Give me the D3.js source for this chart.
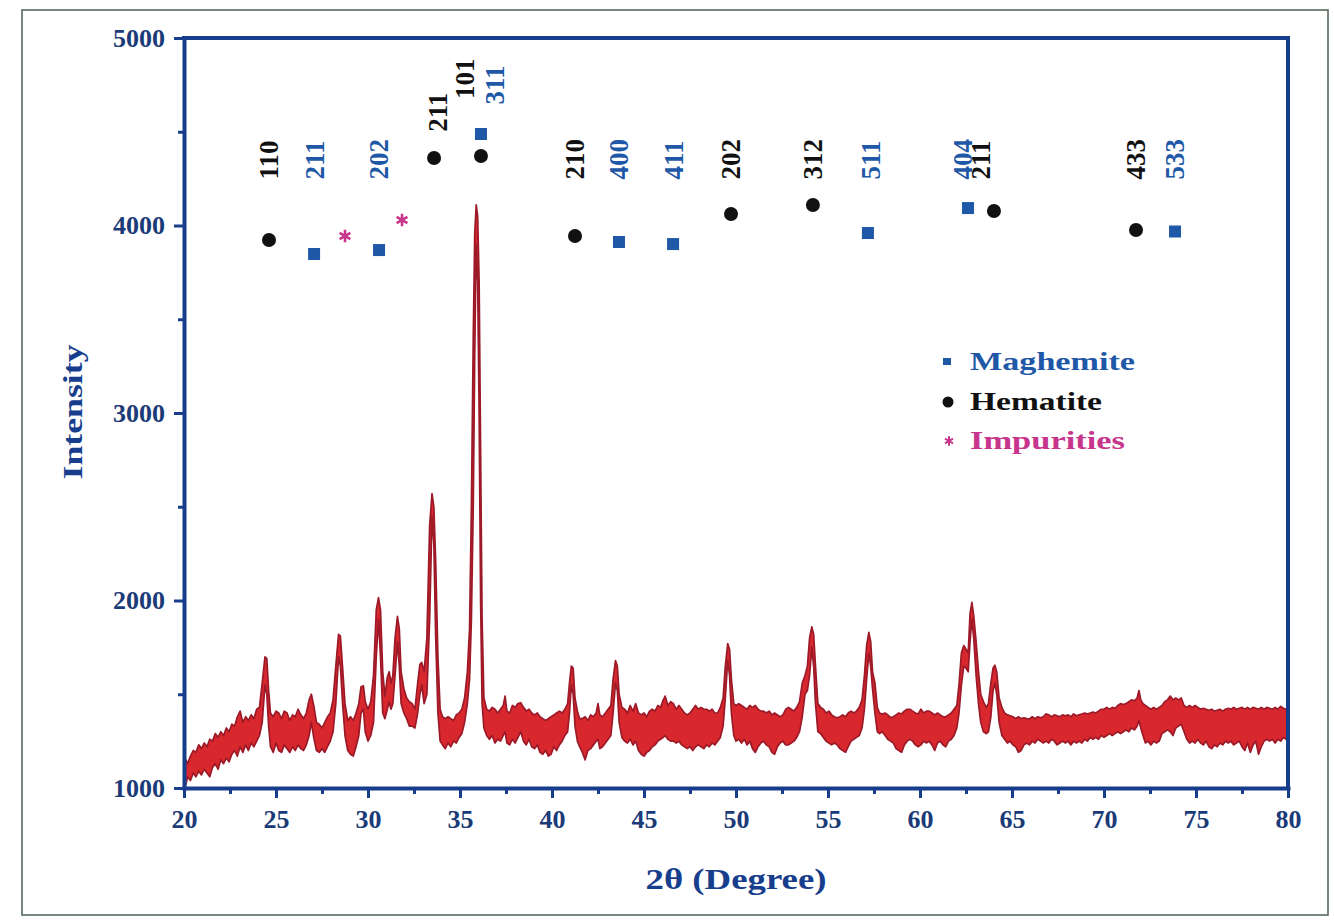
<!DOCTYPE html>
<html>
<head>
<meta charset="utf-8">
<script src="https://cdn.jsdelivr.net/npm/d3@7"></script>
<style>
  html, body { margin: 0; padding: 0; background: #ffffff; }
  svg { display: block; }
  text { font-family: "Liberation Serif", "Times New Roman", serif; font-weight: bold; }
</style>
</head>
<body>
<svg id="chart" width="1334" height="922"></svg>
<script>
// XRD scan, each row: [2θ (deg), lower edge, upper edge] of the noisy trace (counts)
const scan20to30 = [
  [20.0,1000,1100],[20.1,1020,1150],[20.2,1060,1130],[20.35,1040,1170],[20.5,1080,1200],
  [20.65,1060,1190],[20.8,1090,1230],[20.95,1070,1210],[21.1,1100,1240],[21.25,1080,1220],
  [21.4,1060,1260],[21.55,1110,1250],[21.7,1130,1290],[21.85,1100,1270],[22.0,1150,1300],
  [22.15,1130,1280],[22.3,1160,1320],[22.45,1140,1300],[22.6,1180,1340],[22.75,1200,1330],
  [22.9,1170,1380],[23.05,1220,1410],[23.2,1190,1350],[23.35,1230,1380],[23.5,1200,1360],
  [23.65,1240,1390],[23.8,1220,1370],[23.95,1250,1420],[24.1,1280,1430],[24.25,1350,1560],
  [24.4,1550,1700],[24.5,1500,1690],[24.6,1330,1520],[24.7,1220,1400],[24.85,1190,1380],
  [25.0,1240,1410],[25.15,1200,1400],[25.3,1190,1370],[25.45,1230,1410],[25.6,1210,1400],
  [25.75,1190,1360],[25.9,1220,1390],[26.05,1200,1380],[26.2,1230,1420],[26.35,1210,1390],
  [26.5,1200,1370],[26.65,1230,1400],[26.8,1280,1470],[26.92,1350,1500],[27.05,1270,1440],
  [27.2,1200,1350],[27.35,1190,1340],[27.5,1210,1320],[27.65,1190,1350],[27.8,1220,1380],
  [27.95,1250,1400],[28.1,1300,1470],[28.25,1450,1650],[28.4,1700,1820],[28.5,1650,1810],
  [28.62,1450,1640],[28.75,1280,1450],[28.9,1200,1360],[29.05,1180,1380],[29.2,1170,1360],
  [29.35,1220,1400],[29.5,1280,1450],[29.62,1400,1540],[29.75,1420,1545],[29.85,1300,1460]
];
const scan30to40 = [
  [30.0,1250,1420],[30.15,1280,1460],[30.3,1350,1600],[30.45,1700,1950],[30.57,1900,2015],
  [30.68,1700,1950],[30.8,1400,1620],[30.92,1370,1490],[31.05,1420,1590],[31.15,1460,1620],
  [31.25,1420,1560],[31.35,1450,1600],[31.47,1600,1800],[31.6,1780,1915],[31.7,1650,1850],
  [31.8,1450,1620],[31.95,1400,1530],[32.1,1370,1480],[32.25,1330,1460],[32.4,1330,1450],
  [32.55,1320,1420],[32.7,1400,1560],[32.82,1500,1660],[32.92,1550,1670],[33.05,1450,1620],
  [33.2,1500,1800],[33.35,1900,2400],[33.48,2450,2570],[33.58,2300,2500],[33.68,1800,2200],
  [33.8,1400,1700],[33.92,1250,1420],[34.05,1230,1380],[34.2,1210,1370],[34.35,1240,1380],
  [34.5,1220,1370],[34.65,1250,1360],[34.8,1240,1390],[34.95,1270,1400],[35.1,1290,1420],
  [35.25,1350,1480],[35.4,1450,1620],[35.52,1580,1850],[35.62,1900,2500],[35.72,2500,3400],
  [35.8,3300,3950],[35.88,3900,4110],[35.96,3700,4050],[36.04,3000,3700],[36.12,2000,2800],
  [36.2,1450,1900],[36.3,1320,1480],[36.45,1280,1420],[36.6,1260,1410],[36.75,1280,1430],
  [36.9,1240,1420],[37.05,1260,1400],[37.2,1250,1420],[37.35,1280,1440],[37.45,1300,1490],
  [37.55,1240,1410],[37.7,1230,1400],[37.85,1260,1440],[38.0,1240,1430],[38.15,1270,1450],
  [38.3,1300,1455],[38.45,1250,1430],[38.6,1230,1410],[38.75,1260,1420],[38.9,1220,1400],
  [39.05,1210,1390],[39.2,1230,1400],[39.35,1190,1380],[39.5,1180,1370],[39.65,1200,1360],
  [39.8,1170,1370],[39.95,1180,1380]
];
const scan40to50 = [
  [40.1,1220,1390],[40.25,1200,1400],[40.4,1230,1410],[40.55,1250,1400],[40.7,1280,1420],
  [40.85,1300,1450],[40.95,1400,1560],[41.05,1550,1650],[41.15,1500,1640],[41.25,1330,1480],
  [41.38,1250,1410],[41.5,1220,1370],[41.65,1190,1370],[41.8,1150,1380],[41.95,1200,1360],
  [42.1,1210,1390],[42.25,1230,1380],[42.4,1250,1400],[42.5,1260,1450],[42.6,1210,1390],
  [42.75,1220,1380],[42.9,1240,1400],[43.05,1260,1420],[43.2,1280,1440],[43.32,1400,1580],
  [43.45,1560,1680],[43.55,1520,1650],[43.65,1350,1500],[43.8,1270,1430],[43.95,1250,1420],
  [44.1,1240,1400],[44.25,1260,1440],[44.4,1230,1410],[44.55,1250,1450],[44.7,1200,1400],
  [44.85,1180,1390],[45.0,1170,1400],[45.15,1190,1380],[45.3,1200,1410],[45.45,1220,1420],
  [45.6,1230,1410],[45.75,1250,1440],[45.9,1260,1430],[46.05,1270,1470],[46.15,1280,1490],
  [46.3,1260,1440],[46.45,1250,1460],[46.6,1250,1450],[46.75,1240,1420],[46.9,1250,1440],
  [47.05,1230,1420],[47.2,1220,1400],[47.35,1210,1390],[47.5,1220,1400],[47.65,1200,1420],
  [47.8,1220,1440],[47.95,1230,1420],[48.1,1220,1430],[48.25,1210,1420],[48.4,1230,1420],
  [48.55,1220,1410],[48.7,1240,1420],[48.85,1230,1400],[49.0,1250,1400],[49.15,1270,1430],
  [49.3,1330,1480],[49.42,1480,1650],[49.55,1680,1770],[49.65,1600,1740],[49.75,1400,1580],
  [49.88,1280,1450]
];
const scan50to60 = [
  [50.0,1250,1440],[50.15,1260,1450],[50.3,1240,1440],[50.45,1260,1430],[50.6,1230,1420],
  [50.75,1250,1440],[50.9,1210,1430],[51.05,1190,1440],[51.2,1220,1420],[51.35,1240,1410],
  [51.5,1250,1410],[51.65,1230,1400],[51.8,1220,1410],[51.95,1190,1390],[52.1,1180,1400],
  [52.25,1220,1390],[52.4,1240,1380],[52.55,1250,1390],[52.7,1230,1420],[52.85,1230,1430],
  [53.0,1240,1420],[53.15,1250,1410],[53.3,1270,1430],[53.45,1300,1460],[53.6,1380,1560],
  [53.75,1500,1600],[53.88,1520,1650],[54.0,1600,1800],[54.12,1750,1860],[54.22,1650,1820],
  [54.32,1450,1650],[54.45,1300,1450],[54.6,1290,1430],[54.75,1270,1420],[54.9,1250,1400],
  [55.05,1240,1410],[55.2,1230,1390],[55.35,1240,1380],[55.5,1230,1375],[55.65,1210,1380],
  [55.8,1200,1390],[55.95,1190,1380],[56.1,1220,1400],[56.25,1250,1410],[56.4,1260,1400],
  [56.55,1270,1410],[56.7,1280,1430],[56.85,1320,1470],[56.98,1420,1600],[57.1,1580,1760],
  [57.22,1720,1830],[57.32,1650,1780],[57.42,1530,1620],[57.55,1400,1560],[57.68,1300,1430],
  [57.8,1290,1400],[57.95,1300,1395],[58.1,1280,1400],[58.25,1260,1390],[58.4,1250,1375],
  [58.55,1240,1380],[58.7,1210,1390],[58.85,1200,1400],[59.0,1190,1395],[59.15,1230,1410],
  [59.3,1250,1420],[59.45,1260,1420],[59.6,1250,1410],[59.75,1230,1400],[59.9,1220,1395]
];
const scan60to70 = [
  [60.05,1230,1420],[60.2,1250,1400],[60.35,1240,1410],[60.5,1250,1410],[60.65,1230,1400],
  [60.8,1200,1390],[60.95,1240,1400],[61.1,1250,1390],[61.25,1230,1380],[61.4,1220,1380],
  [61.55,1250,1390],[61.7,1260,1400],[61.85,1280,1420],[62.0,1320,1440],[62.12,1400,1550],
  [62.25,1550,1720],[62.38,1650,1760],[62.5,1640,1740],[62.62,1620,1720],[62.72,1780,1930],
  [62.82,1900,1990],[62.92,1800,1920],[63.05,1600,1780],[63.18,1450,1620],[63.3,1350,1500],
  [63.45,1300,1460],[63.6,1290,1430],[63.72,1300,1450],[63.85,1380,1560],[63.97,1520,1640],
  [64.07,1560,1655],[64.17,1500,1620],[64.3,1350,1480],[64.45,1280,1430],[64.6,1260,1400],
  [64.75,1240,1390],[64.9,1250,1385],[65.05,1230,1380],[65.2,1220,1370],[65.35,1190,1380],
  [65.5,1200,1370],[65.65,1230,1375],[65.8,1240,1370],[65.95,1230,1368],[66.1,1250,1380],
  [66.25,1240,1370],[66.4,1260,1380],[66.55,1250,1375],[66.7,1240,1380],[66.85,1250,1395],
  [67.0,1240,1390],[67.15,1260,1380],[67.3,1250,1390],[67.45,1230,1385],[67.6,1240,1380],
  [67.75,1250,1390],[67.9,1240,1385],[68.05,1250,1390],[68.2,1230,1380],[68.35,1250,1395],
  [68.5,1240,1385],[68.65,1250,1390],[68.8,1240,1395],[68.95,1260,1400],[69.1,1250,1395],
  [69.25,1270,1400],[69.4,1260,1405],[69.55,1270,1400],[69.7,1260,1410],[69.85,1280,1420]
];
const scan70to80 = [
  [70.0,1270,1420],[70.15,1280,1430],[70.3,1290,1420],[70.45,1280,1430],[70.6,1290,1425],
  [70.75,1300,1440],[70.9,1290,1450],[71.05,1300,1445],[71.2,1310,1450],[71.35,1300,1460],
  [71.5,1320,1470],[71.65,1310,1465],[71.8,1330,1480],[71.9,1360,1520],[72.0,1320,1470],
  [72.12,1280,1450],[72.25,1240,1440],[72.4,1250,1430],[72.55,1230,1420],[72.7,1250,1430],
  [72.85,1240,1420],[73.0,1250,1430],[73.15,1290,1440],[73.3,1300,1460],[73.45,1310,1470],
  [73.6,1300,1490],[73.75,1280,1470],[73.9,1320,1480],[74.05,1330,1470],[74.2,1340,1480],
  [74.35,1300,1440],[74.5,1260,1430],[74.65,1240,1440],[74.8,1250,1430],[74.95,1240,1440],
  [75.1,1260,1430],[75.25,1240,1420],[75.4,1230,1425],[75.55,1250,1420],[75.7,1220,1415],
  [75.85,1210,1420],[76.0,1230,1410],[76.15,1220,1415],[76.3,1240,1420],[76.45,1230,1410],
  [76.6,1250,1420],[76.75,1240,1425],[76.9,1250,1420],[77.05,1230,1430],[77.2,1240,1420],
  [77.35,1250,1425],[77.5,1220,1430],[77.65,1200,1420],[77.8,1240,1430],[77.95,1190,1420],
  [78.1,1230,1430],[78.25,1250,1425],[78.4,1180,1420],[78.55,1220,1430],[78.7,1250,1420],
  [78.85,1260,1430],[79.0,1250,1425],[79.15,1260,1420],[79.3,1240,1430],[79.45,1260,1420],
  [79.6,1250,1435],[79.75,1270,1425],[79.9,1260,1420],[80.0,1280,1410]
];

// axis ticks
const xTicks = [20, 25, 30, 35, 40, 45, 50, 55, 60, 65, 70, 75, 80];
const xMinorTicks = [22.5, 27.5, 32.5, 37.5, 42.5, 47.5, 52.5, 57.5, 62.5, 67.5, 72.5, 77.5];
const yTicks = [1000, 2000, 3000, 4000, 5000];
const yMinorTicks = [1500, 2500, 3500, 4500];

// phase markers: reflection angle, marker level and (hkl)
const hematiteAngles = [24.62, 33.59, 36.14, 41.25, 49.73, 54.18, 64.02, 71.74];
const hematiteLevels = [3923, 4360, 4371, 3944, 4061, 4109, 4077, 3976];
const hematiteHkl = ["110", "211", "101", "210", "202", "312", "211", "433"];

const maghemiteAngles = [27.07, 30.6, 36.14, 43.64, 46.58, 57.17, 62.61, 73.86];
const maghemiteLevels = [3848, 3869, 4488, 3912, 3901, 3960, 4093, 3968];
const maghemiteHkl = ["211", "202", "311", "400", "411", "511", "404", "533"];

const impurityAngles = [28.75, 31.85];
const impurityLevels = [3944, 4029];

const legendNames = ["Maghemite", "Hematite", "Impurities"];

// ---------------------------------------------------------------
const plot = { left: 184, right: 1288, top: 38, bottom: 788 };
const navy = "#173e8c";
const tickText = "#1b3a78";
const redFill = "#d8282e";
const redEdge = "#9c1928";
const blue = "#1f58a6";
const black = "#111111";
const magenta = "#c8358c";

const svg = d3.select("#chart");

// page frame
svg.append("rect")
  .attr("x", 22).attr("y", 10).attr("width", 1306).attr("height", 905)
  .attr("fill", "#ffffff").attr("stroke", "#55695a").attr("stroke-width", 1.6);

const x = d3.scaleLinear().domain([20, 80]).range([plot.left, plot.right]);
const y = d3.scaleLinear().domain([1000, 5000]).range([plot.bottom, plot.top]);

// diffraction trace drawn as a band between its lower and upper noise edges
const scan = [].concat(scan20to30, scan30to40, scan40to50, scan50to60, scan60to70, scan70to80);
const band = d3.area().x(d => x(d[0])).y0(d => y(d[1])).y1(d => y(d[2]));
const upperEdge = d3.line().x(d => x(d[0])).y(d => y(d[2]));
const lowerEdge = d3.line().x(d => x(d[0])).y(d => y(d[1]));

const trace = svg.append("g");
trace.append("path").datum(scan).attr("d", band).attr("fill", redFill);
trace.append("path").datum(scan).attr("d", upperEdge)
  .attr("fill", "none").attr("stroke", redEdge).attr("stroke-width", 1.7).attr("stroke-linejoin", "round");
trace.append("path").datum(scan).attr("d", lowerEdge)
  .attr("fill", "none").attr("stroke", redEdge).attr("stroke-width", 1.7).attr("stroke-linejoin", "round");

// axes
function styleAxis(g, fontSize) {
  g.select(".domain").attr("stroke", navy).attr("stroke-width", 4).attr("stroke-linecap", "square");
  g.selectAll(".tick line").attr("stroke", navy).attr("stroke-width", 3);
  g.selectAll(".tick text")
    .attr("fill", tickText)
    .style("font-family", '"Liberation Serif", "Times New Roman", serif')
    .style("font-weight", "bold")
    .style("font-size", fontSize + "px");
}

const gxMinor = svg.append("g").attr("transform", `translate(0,${plot.bottom})`)
  .call(d3.axisBottom(x).tickValues(xMinorTicks).tickSize(6).tickFormat("").tickSizeOuter(0));
styleAxis(gxMinor, 26);
gxMinor.select(".domain").remove();

const gx = svg.append("g").attr("transform", `translate(0,${plot.bottom})`)
  .call(d3.axisBottom(x).tickValues(xTicks).tickSize(10).tickPadding(12).tickSizeOuter(0)
    .tickFormat(d3.format("d")));
styleAxis(gx, 26);

const gyMinor = svg.append("g").attr("transform", `translate(${plot.left},0)`)
  .call(d3.axisLeft(y).tickValues(yMinorTicks).tickSize(6).tickFormat("").tickSizeOuter(0));
styleAxis(gyMinor, 26);
gyMinor.select(".domain").remove();

const gy = svg.append("g").attr("transform", `translate(${plot.left},0)`)
  .call(d3.axisLeft(y).tickValues(yTicks).tickSize(10).tickPadding(9).tickSizeOuter(0)
    .tickFormat(d3.format("d")));
styleAxis(gy, 26);

// closing top and right frame lines
svg.append("path")
  .attr("d", `M${plot.left},${plot.top}H${plot.right}V${plot.bottom}`)
  .attr("fill", "none").attr("stroke", navy).attr("stroke-width", 4).attr("stroke-linecap", "square");

// axis titles
svg.append("text")
  .attr("transform", "translate(73,412) rotate(-90)")
  .attr("text-anchor", "middle").attr("dy", "0.35em")
  .attr("fill", navy).style("font-size", "27px")
  .attr("textLength", 135).attr("lengthAdjust", "spacingAndGlyphs")
  .text("Intensity");

svg.append("text")
  .attr("x", 736).attr("y", 889)
  .attr("text-anchor", "middle")
  .attr("fill", navy).style("font-size", "29px")
  .attr("textLength", 181).attr("lengthAdjust", "spacingAndGlyphs")
  .text("2θ (Degree)");

// phase markers
const markers = svg.append("g");
markers.selectAll("rect.mag")
  .data(maghemiteAngles.map((a, i) => [a, maghemiteLevels[i]]))
  .join("rect").attr("class", "mag")
  .attr("x", d => x(d[0]) - 6).attr("y", d => y(d[1]) - 6)
  .attr("width", 12).attr("height", 12).attr("fill", blue);

markers.selectAll("circle.hem")
  .data(hematiteAngles.map((a, i) => [a, hematiteLevels[i]]))
  .join("circle").attr("class", "hem")
  .attr("cx", d => x(d[0])).attr("cy", d => y(d[1])).attr("r", 7).attr("fill", black);

const asterisk = d3.symbol().type(d3.symbolAsterisk).size(110);
markers.selectAll("path.imp")
  .data(impurityAngles.map((a, i) => [a, impurityLevels[i]]))
  .join("path").attr("class", "imp")
  .attr("transform", d => `translate(${x(d[0])},${y(d[1])})`)
  .attr("d", asterisk).attr("fill", "none").attr("stroke", magenta).attr("stroke-width", 2.6);

// (hkl) labels, rotated, standing on a common line above the markers;
// crowded neighbours are nudged apart (dx in px, base as intensity level)
const labelBase = 4245;
const nudgeHem = { 1: { dx: 3, base: 4500 }, 2: { dx: -16, base: 4675 }, 6: { dx: -13 } };
const nudgeMag = { 2: { dx: 14, base: 4645 }, 6: { dx: -5 }, 5: { dx: 3 } };

function drawLabels(angles, hkl, nudge, color) {
  const rows = angles.map((a, i) => {
    const n = nudge[i] || {};
    return { px: x(a) + (n.dx || 0), py: y(n.base || labelBase), t: hkl[i] };
  });
  svg.append("g").selectAll("text")
    .data(rows).join("text")
    .attr("transform", d => `translate(${d.px},${d.py}) rotate(-90)`)
    .attr("dy", "0.35em")
    .attr("fill", color)
    .style("font-size", "27px")
    .text(d => d.t);
}
drawLabels(hematiteAngles, hematiteHkl, nudgeHem, black);
drawLabels(maghemiteAngles, maghemiteHkl, nudgeMag, blue);

// legend
const legend = svg.append("g");
const legendColors = [blue, black, magenta];
const legendWidths = [165, 132, 155];
const legendRows = [362, 402, 441];
legendNames.forEach((name, i) => {
  const cy = legendRows[i];
  if (i === 0) {
    legend.append("rect").attr("x", 943).attr("y", cy - 4).attr("width", 8).attr("height", 7).attr("fill", blue);
  } else if (i === 1) {
    legend.append("circle").attr("cx", 948).attr("cy", cy).attr("r", 5.5).attr("fill", black);
  } else {
    legend.append("path").attr("transform", `translate(949,${cy})`)
      .attr("d", d3.symbol().type(d3.symbolAsterisk).size(60))
      .attr("fill", "none").attr("stroke", magenta).attr("stroke-width", 2);
  }
  legend.append("text")
    .attr("x", 970).attr("y", cy + 8)
    .attr("fill", legendColors[i])
    .style("font-size", "26px")
    .attr("textLength", legendWidths[i]).attr("lengthAdjust", "spacingAndGlyphs")
    .text(name);
});
</script>
</body>
</html>
